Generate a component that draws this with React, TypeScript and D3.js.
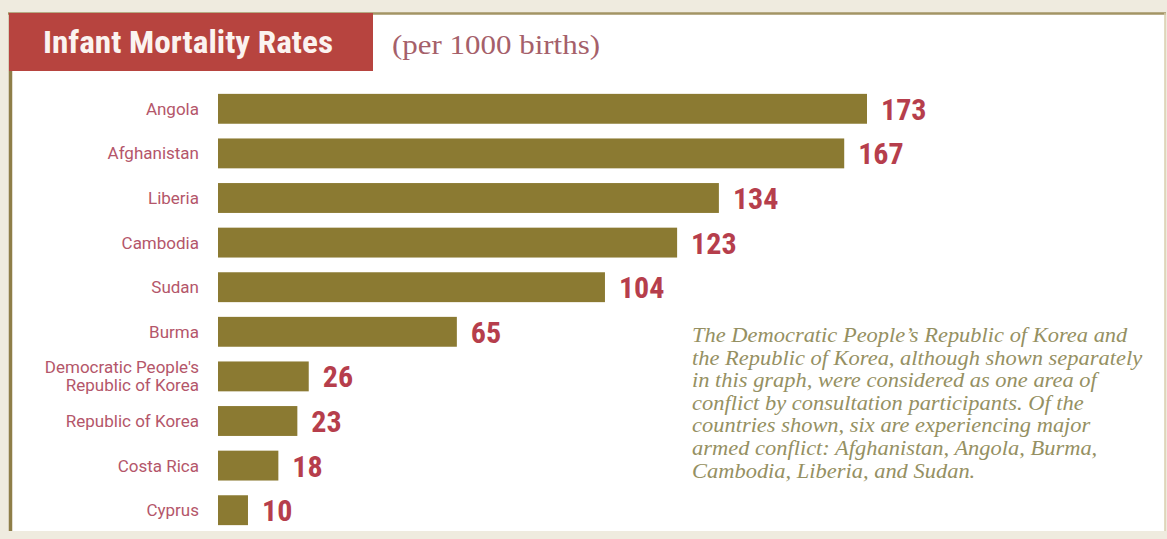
import React from "react";
import * as d3 from "d3";

const countries = [
  "Angola",
  "Afghanistan",
  "Liberia",
  "Cambodia",
  "Sudan",
  "Burma",
  "Democratic People's|Republic of Korea",
  "Republic of Korea",
  "Costa Rica",
  "Cyprus",
];
const rates = [173, 167, 134, 123, 104, 65, 26, 23, 18, 10];

const titleText = "Infant Mortality Rates";
const subtitleText = "(per 1000 births)";
const noteLines = [
  "The Democratic People\u2019s Republic of Korea and",
  "the Republic of Korea, although shown separately",
  "in this graph, were considered as one area of",
  "conflict by consultation participants.  Of the",
  "countries shown, six are experiencing major",
  "armed conflict: Afghanistan, Angola, Burma,",
  "Cambodia, Liberia, and Sudan.",
];

const W = 1167;
const H = 539;

export default function App() {
  const y = d3
    .scaleBand<number>()
    .domain(d3.range(countries.length))
    .range([86.5, 532.5])
    .paddingInner(0.33)
    .paddingOuter(0.165);
  const x = d3.scaleLinear().domain([0, 173]).range([210, 867]);
  const barStart = 218;
  const condensed = "'Roboto Condensed', 'Liberation Sans Narrow', 'Arial Narrow', Roboto, sans-serif";
  const noteX = 692;

  return (
    <svg
      width={W}
      height={H}
      style={{ position: "absolute", left: 0, top: 0, display: "block" }}
    >
      <rect x={0} y={0} width={W} height={H} fill="#efebdf" />
      <rect x={9} y={13} width={1156} height={518} fill="#ffffff" />
      <line x1={8} x2={1166} y1={13.5} y2={13.5} stroke="#a39565" strokeWidth={2.5} />
      <line x1={10.5} x2={10.5} y1={13} y2={531} stroke="#8e7e48" strokeWidth={3.5} />
      <line x1={1165} x2={1165} y1={13} y2={531} stroke="#d8cfae" strokeWidth={1.5} />

      <rect x={9} y={13} width={364} height={58} fill="#b7443f" />
      <text
        x={43}
        y={53}
        fill="#fbf3f0"
        fontFamily={condensed}
        fontWeight="bold"
        fontSize={31}
        textLength={290}
        lengthAdjust="spacingAndGlyphs"
      >
        {titleText}
      </text>
      <text
        x={392}
        y={54}
        fill="#a5606a"
        fontFamily="'Liberation Serif', 'DejaVu Serif', serif"
        fontSize={27}
        textLength={208}
        lengthAdjust="spacingAndGlyphs"
      >
        {subtitleText}
      </text>

      {rates.map((v, i) => {
        const y0 = y(i) as number;
        const bh = y.bandwidth();
        const cy = y0 + bh / 2;
        const lines = countries[i].split("|");
        return (
          <g key={i}>
            <rect x={barStart} y={y0} width={x(v) - barStart} height={bh} fill="#8b7a32" />
            <text
              x={x(v) + 14}
              y={cy + 11}
              fill="#b63e4c"
              fontFamily={condensed}
              fontWeight="bold"
              fontSize={30}
            >
              {v}
            </text>
            {lines.map((ln, j) => (
              <text
                key={j}
                x={199}
                y={lines.length > 1 ? cy - 3 + j * 18 : cy + 6}
                textAnchor="end"
                fill="#b4566a"
                fontFamily="Roboto, 'Liberation Sans', sans-serif"
                fontSize={17}
              >
                {ln}
              </text>
            ))}
          </g>
        );
      })}

      <g transform={`translate(${noteX},0) scale(1.07,1)`}>
        {noteLines.map((ln, i) => (
          <text
            key={i}
            x={0}
            y={342 + i * 22.6}
            fill="#959062"
            fontFamily="'Liberation Serif', 'DejaVu Serif', serif"
            fontStyle="italic"
            fontSize={21}
          >
            {ln}
          </text>
        ))}
      </g>
    </svg>
  );
}
